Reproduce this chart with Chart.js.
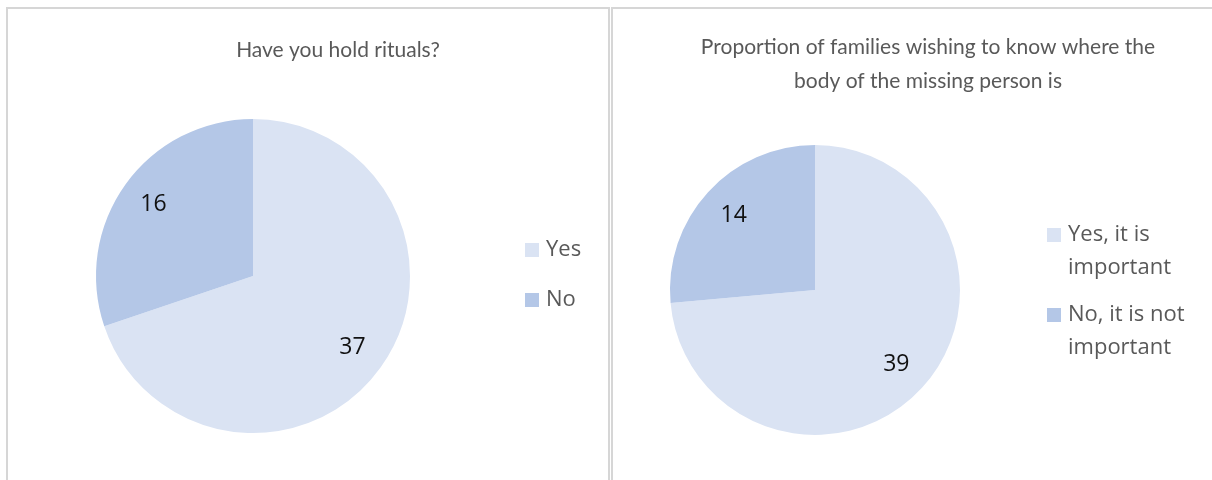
<!DOCTYPE html>
<html>
<head>
<meta charset="utf-8">
<script src="https://cdn.jsdelivr.net/npm/chart.js@4/dist/chart.umd.min.js"></script>
<style>
  html, body { margin: 0; padding: 0; background: #fff; }
  body { width: 1212px; height: 480px; position: relative; overflow: hidden; }
  .panel { position: absolute; top: 7px; border: 2px solid #d6d6d6; border-bottom: none; background: #fff; }
  #p1 { left: 6px; width: 600px; height: 480px; }
  #p2 { left: 611px; width: 620px; height: 480px; border-right: none; }
  canvas { display: block; }
</style>
</head>
<body>
<div class="panel" id="p1"><canvas id="c1" width="600" height="471"></canvas></div>
<div class="panel" id="p2"><canvas id="c2" width="599" height="471"></canvas></div>
<script>
const ritualsTitle = ['Have you hold rituals?']
const ritualsLabels = ['Yes', 'No']
const ritualsValues = [37, 16]

const bodyTitle = ['Proportion of families wishing to know where the', 'body of the missing person is']
const bodyLabels = ['Yes, it is important', 'No, it is not important']
const bodyLegendLines = [['Yes, it is', 'important'], ['No, it is not', 'important']]
const bodyValues = [39, 14]

const colors = ['#dae3f3', '#b4c7e7']
const textColor = '#595959'

// title, value labels and legend drawn by hand to get the office look
const decor = {
  id: 'decor',
  afterDatasetsDraw(chart, args, opts) {
    const ctx = chart.ctx
    ctx.save()
    ctx.fillStyle = textColor
    ctx.font = '21px Lato'
    ctx.textAlign = 'center'
    ctx.textBaseline = 'middle'
    opts.title.forEach((t, i) => ctx.fillText(t, opts.titleX, opts.titleY + i * 34))

    const meta = chart.getDatasetMeta(0)
    ctx.fillStyle = '#111'
    ctx.font = '23px "Open Sans"'
    meta.data.forEach((arc, i) => {
      const mid = (arc.startAngle + arc.endAngle) / 2
      const r = arc.outerRadius * opts.labelRatio
      ctx.fillText(String(chart.data.datasets[0].data[i]), arc.x + Math.cos(mid) * r, arc.y + Math.sin(mid) * r)
    })

    ctx.textAlign = 'left'
    ctx.font = '22px "Open Sans"'
    opts.legend.forEach((lines, i) => {
      const y = opts.legendY[i]
      ctx.fillStyle = colors[i]
      ctx.fillRect(opts.legendX, y - 7, 14, 14)
      ctx.fillStyle = textColor
      lines.forEach((line, j) => ctx.fillText(line, opts.legendX + 21, y + j * 33))
    })
    ctx.restore()
  },
}

const makePie = (id, labels, values, padding, decorOpts) =>
  new Chart(document.getElementById(id), {
    type: 'pie',
    data: {
      labels: labels,
      datasets: [{
        data: values,
        backgroundColor: colors,
        borderWidth: 0,
        hoverOffset: 0,
      }],
    },
    options: {
      responsive: false,
      animation: false,
      events: [],
      layout: { padding: padding },
      plugins: {
        legend: { display: false },
        tooltip: { enabled: false },
        decor: decorOpts,
      },
    },
    plugins: [decor],
  })

makePie('c1', ritualsLabels, ritualsValues,
  { left: 88, right: 198, top: 110, bottom: 47 },
  {
    title: ritualsTitle, titleX: 330, titleY: 41, labelRatio: 0.78,
    legend: ritualsLabels.map((l) => [l]), legendX: 517, legendY: [241, 291],
  })

makePie('c2', bodyLabels, bodyValues,
  { left: 57, right: 252, top: 136, bottom: 45 },
  {
    title: bodyTitle, titleX: 315, titleY: 38, labelRatio: 0.76,
    legend: bodyLegendLines, legendX: 434, legendY: [226, 306],
  })
</script>
</body>
</html>
